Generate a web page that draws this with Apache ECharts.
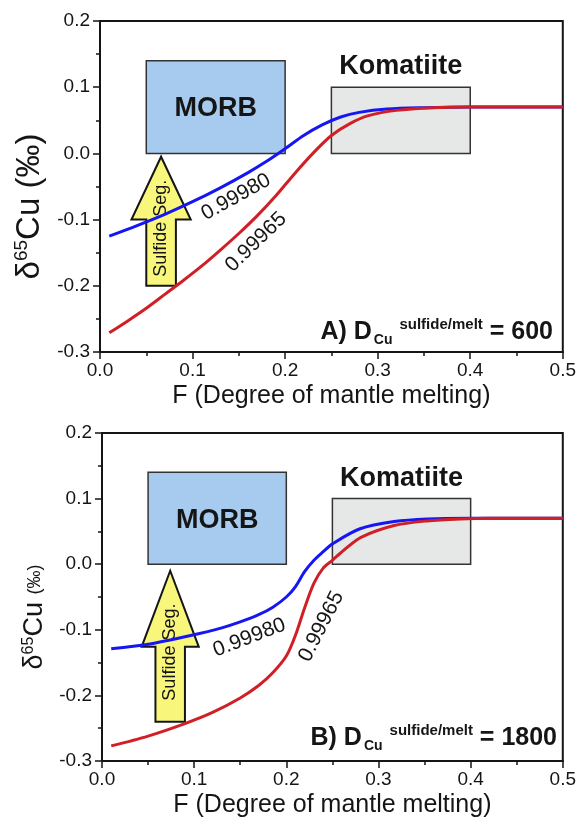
<!DOCTYPE html>
<html><head><meta charset="utf-8">
<script src="https://cdn.jsdelivr.net/npm/echarts@6/dist/echarts.min.js"></script>
<style>html,body{margin:0;padding:0;background:#fff}#c{width:579px;height:824px}</style>
</head><body><div id="c"></div>
<script>
// ---------- DATA ----------
const xTicks = [0.0, 0.1, 0.2, 0.3, 0.4, 0.5];
const yTicks = [-0.3, -0.2, -0.1, 0.0, 0.1, 0.2];

// Panel A (D = 600)
const A_blue_F = [0.01, 0.04, 0.07, 0.10, 0.13, 0.16, 0.18, 0.20, 0.22, 0.24, 0.26, 0.28, 0.31, 0.35, 0.40, 0.50];
const A_blue_V = [-0.125, -0.109, -0.092, -0.073, -0.052, -0.029, -0.012, 0.007, 0.027, 0.043, 0.055, 0.062, 0.067, 0.069, 0.070, 0.070];
const A_red_F = [0.01, 0.03, 0.05, 0.07, 0.09, 0.11, 0.13, 0.15, 0.17, 0.19, 0.21, 0.23, 0.25, 0.27, 0.29, 0.32, 0.36, 0.40, 0.50];
const A_red_V = [-0.271, -0.253, -0.234, -0.213, -0.192, -0.170, -0.146, -0.121, -0.094, -0.064, -0.031, 0.000, 0.027, 0.045, 0.057, 0.065, 0.069, 0.070, 0.070];

// Panel B (D = 1800)
const B_blue_F = [0.01, 0.05, 0.095, 0.13, 0.15, 0.17, 0.185, 0.20, 0.21, 0.22, 0.23, 0.24, 0.25, 0.28, 0.317, 0.353, 0.40, 0.50];
const B_blue_V = [-0.129, -0.122, -0.109, -0.097, -0.088, -0.077, -0.066, -0.050, -0.034, -0.011, 0.006, 0.019, 0.031, 0.054, 0.065, 0.069, 0.070, 0.070];
const B_red_F = [0.01, 0.05, 0.09, 0.12, 0.15, 0.17, 0.185, 0.20, 0.21, 0.22, 0.23, 0.24, 0.25, 0.263, 0.281, 0.317, 0.353, 0.389, 0.42, 0.50];
const B_red_V = [-0.277, -0.262, -0.243, -0.226, -0.204, -0.185, -0.166, -0.140, -0.108, -0.066, -0.029, -0.006, 0.006, 0.022, 0.041, 0.059, 0.066, 0.069, 0.070, 0.070];

// Field boxes [F0, V0, F1, V1]
const boxNames = ['MORB', 'Komatiite'];
const boxMORB = [0.05, 0.0, 0.20, 0.14];
const boxKomatiite = [0.25, 0.0, 0.40, 0.10];

// Sulfide segregation arrows [F centre, tip, neck, base, head half-width, shaft half-width]
const arrowA = [0.066, -0.005, -0.100, -0.200, 0.032, 0.016];
const arrowB = [0.074, -0.010, -0.126, -0.240, 0.031, 0.016];

// Annotation texts
const curveLabels = ['0.99980', '0.99965'];
const A_labelF = [0.147, 0.1685];
const A_labelV = [-0.066, -0.134];
const B_labelF = [0.160, 0.238];
const B_labelV = [-0.112, -0.095];
const komLabelF = 0.325, komLabelV = 0.1305;
const morbLabelF = 0.125, morbLabelV = 0.067;
const A_segF = 0.066, A_segV = -0.113;
const B_segF = 0.074, B_segV = -0.134;
const panelD = ['600', '1800'];

// ---------- CHART ----------
const FONT = 'Liberation Sans, Arial, Helvetica, sans-serif';
const BLACK = '#151515';
const zip = (a, b) => a.map((v, i) => [v, b[i]]);
const fmt = v => (Math.abs(v) < 1e-9 ? '0.0' : v.toFixed(1));

function xAxisFor(idx) {
  return {
    type: 'value', gridIndex: idx, min: xTicks[0], max: xTicks[xTicks.length - 1], interval: 0.1,
    name: 'F (Degree of mantle melting)', nameLocation: 'middle', nameGap: 32,
    nameTextStyle: { fontSize: 25, fontFamily: FONT, color: BLACK },
    axisLine: { show: true, onZero: false, lineStyle: { color: BLACK, width: 2 } },
    axisTick: { show: true, inside: false, length: 7, lineStyle: { color: BLACK, width: 1.5 } },
    minorTick: { show: true, splitNumber: 2, length: 4, lineStyle: { color: BLACK, width: 1.5 } },
    splitLine: { show: false },
    axisLabel: { fontSize: 19, fontFamily: FONT, color: BLACK, margin: 9, formatter: fmt }
  };
}
function yAxisFor(idx, small) {
  const big = small ? 27 : 33, sup = small ? 16 : 19, par = small ? 18 : 33;
  const rich = {
    d: { fontSize: big, fontFamily: FONT, color: BLACK, lineHeight: big + 2 },
    s: { fontSize: sup, fontFamily: FONT, color: BLACK, verticalAlign: 'top', lineHeight: sup },
    c: { fontSize: big, fontFamily: FONT, color: BLACK, lineHeight: big + 2 },
    p: { fontSize: par, fontFamily: FONT, color: BLACK, lineHeight: big + 2 }
  };
  return {
    type: 'value', gridIndex: idx, min: yTicks[0], max: yTicks[yTicks.length - 1], interval: 0.1,
    name: '{d|δ}{s|65}{c|Cu }{p|(‰)}', nameLocation: 'middle', nameGap: small ? 50 : 46, nameRotate: 90,
    nameTextStyle: { rich: rich, padding: [0, 40, 0, 0] },
    axisLine: { show: true, onZero: false, lineStyle: { color: BLACK, width: 2 } },
    axisTick: { show: true, inside: false, length: 7, lineStyle: { color: BLACK, width: 1.5 } },
    minorTick: { show: true, splitNumber: 2, length: 4, lineStyle: { color: BLACK, width: 1.5 } },
    splitLine: { show: false },
    axisLabel: { fontSize: 19, fontFamily: FONT, color: BLACK, margin: 10, formatter: fmt }
  };
}

const boxFill = { MORB: '#a7cbef', Komatiite: '#e6e8e8' };
function boxRender(params, api) {
  const tl = api.coord([api.value(0), api.value(3)]);
  const br = api.coord([api.value(2), api.value(1)]);
  const name = boxNames[params.dataIndex];
  return {
    type: 'rect',
    shape: { x: tl[0], y: tl[1], width: br[0] - tl[0], height: br[1] - tl[1] },
    style: { fill: boxFill[name], stroke: '#333', lineWidth: 1.5 }
  };
}
function arrowRender(params, api) {
  const x = api.value(0), tip = api.value(1), neck = api.value(2), base = api.value(3);
  const hh = api.value(4), sh = api.value(5);
  const pts = [[x, tip], [x + hh, neck], [x + sh, neck], [x + sh, base], [x - sh, base], [x - sh, neck], [x - hh, neck]]
    .map(p => api.coord(p));
  return { type: 'polygon', shape: { points: pts }, style: { fill: '#f9f67c', stroke: BLACK, lineWidth: 2 } };
}

const solid = { opacity: 1, color: 'transparent' };
function panelSeries(idx, blueF, blueV, redF, redV, arrow, labF, labV, segF, segV, rotations) {
  const ax = { xAxisIndex: idx, yAxisIndex: idx };
  return [
    Object.assign({ type: 'custom', z: 1, renderItem: boxRender, data: [boxMORB, boxKomatiite],
      encode: { x: [0, 2], y: [1, 3] }, silent: true }, ax),
    Object.assign({ type: 'custom', z: 2, renderItem: arrowRender, data: [arrow],
      encode: { x: 0, y: [1, 3] }, silent: true }, ax),
    Object.assign({ type: 'scatter', z: 3, symbolSize: 0, silent: true, itemStyle: solid,
      data: [[segF, segV]],
      label: { show: true, position: 'inside', rotate: 90, formatter: 'Sulfide Seg.',
        fontSize: 18, fontFamily: FONT, color: BLACK } }, ax),
    Object.assign({ type: 'line', z: 4, data: zip(blueF, blueV), showSymbol: false, smooth: 0.3,
      lineStyle: { color: '#1616f2', width: 3 }, silent: true }, ax),
    Object.assign({ type: 'line', z: 5, data: zip(redF, redV), showSymbol: false, smooth: 0.3,
      lineStyle: { color: '#d11f26', width: 3 }, silent: true }, ax),
    Object.assign({ type: 'scatter', z: 6, symbolSize: 0, silent: true, itemStyle: solid,
      data: curveLabels.map((t, i) => ({ value: [labF[i], labV[i]], name: t,
        label: { rotate: rotations[i] } })),
      label: { show: true, position: 'inside', formatter: p => p.name,
        fontSize: 21, fontFamily: FONT, color: BLACK } }, ax),
    Object.assign({ type: 'scatter', z: 6, symbolSize: 0, silent: true, itemStyle: solid,
      data: [{ value: [komLabelF, komLabelV], name: boxNames[1] }, { value: [morbLabelF, morbLabelV], name: boxNames[0] }],
      label: { show: true, position: 'inside', formatter: p => p.name,
        fontSize: 27, fontWeight: 'bold', fontFamily: FONT, color: BLACK } }, ax)
  ];
}

const panelRich = {
  b: { fontSize: 25, fontWeight: 'bold', fontFamily: FONT, fill: BLACK, lineHeight: 30 },
  sub: { fontSize: 14, fontWeight: 'bold', fontFamily: FONT, fill: BLACK, verticalAlign: 'bottom', lineHeight: 13, padding: [0, 7, 0, 2] },
  sup: { fontSize: 15, fontWeight: 'bold', fontFamily: FONT, fill: BLACK, verticalAlign: 'top', lineHeight: 14 }
};

const chart = echarts.init(document.getElementById('c'), null, { renderer: 'canvas' });
chart.setOption({
  animation: false,
  backgroundColor: '#ffffff',
  grid: [
    { left: 100, top: 21, width: 463, height: 331, show: true, borderColor: BLACK, borderWidth: 2, backgroundColor: 'transparent' },
    { left: 102, top: 433, width: 465, height: 328, show: true, borderColor: BLACK, borderWidth: 2, backgroundColor: 'transparent' }
  ],
  xAxis: [xAxisFor(0), xAxisFor(1)],
  yAxis: [yAxisFor(0, false), yAxisFor(1, true)],
  series: [].concat(
    panelSeries(0, A_blue_F, A_blue_V, A_red_F, A_red_V, arrowA, A_labelF, A_labelV, A_segF, A_segV, [29, 44]),
    panelSeries(1, B_blue_F, B_blue_V, B_red_F, B_red_V, arrowB, B_labelF, B_labelV, B_segF, B_segV, [21, 63])
  ),
  graphic: [
    { type: 'text', z: 100, style: { x: 553, y: 332, align: 'right', verticalAlign: 'middle',
      text: '{b|A) D}{sub|Cu}{sup|sulfide/melt}{b| = ' + panelD[0] + '}', rich: panelRich } },
    { type: 'text', z: 100, style: { x: 557, y: 738, align: 'right', verticalAlign: 'middle',
      text: '{b|B) D}{sub|Cu}{sup|sulfide/melt}{b| = ' + panelD[1] + '}', rich: panelRich } }
  ]
});
</script>
</body></html>
